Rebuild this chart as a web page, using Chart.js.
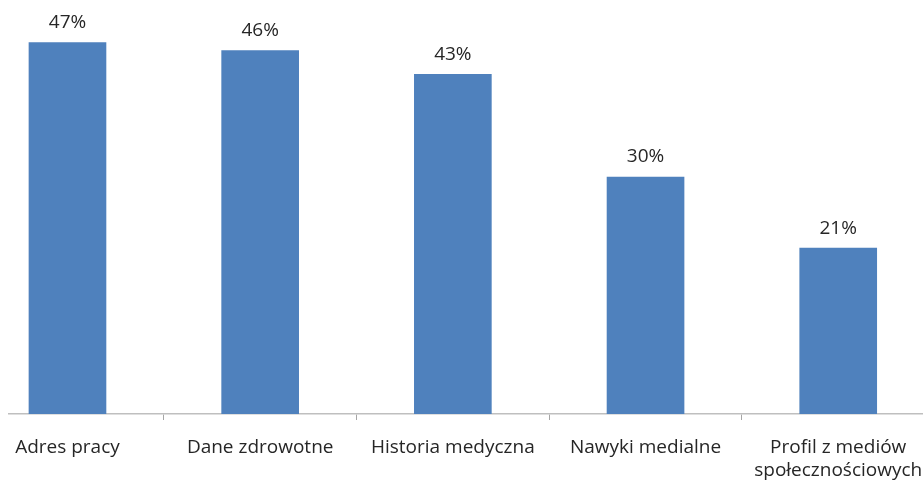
<!DOCTYPE html>
<html>
<head>
<meta charset="utf-8">
<script src="https://cdn.jsdelivr.net/npm/chart.js@4.4.1/dist/chart.umd.min.js"></script>
<style>
  html, body { margin: 0; padding: 0; background: #fff; }
  #wrap { width: 923px; height: 482px; }
</style>
</head>
<body>
<div id="wrap"><canvas id="chart"></canvas></div>
<script>
// dane z wykresu
const categories = [
    'Adres pracy',
    'Dane zdrowotne',
    'Historia medyczna',
    'Nawyki medialne',
    ['Profil z mediów', 'społecznościowych']
];
const values = [47, 46, 43, 30, 21];

const xMin = -0.3035;
const xMax = 4.44;

const barLabels = {
    id: 'barLabels',
    afterDatasetsDraw(chart) {
        const ctx = chart.ctx;
        const meta = chart.getDatasetMeta(0);
        ctx.save();
        ctx.font = '19px "Open Sans"';
        ctx.fillStyle = '#262626';
        ctx.textAlign = 'center';
        ctx.textBaseline = 'middle';
        meta.data.forEach((bar, i) => {
            ctx.fillText(values[i] + '%', bar.x, bar.y - 20);
        });
        ctx.restore();
    }
};

new Chart(document.getElementById('chart'), {
    type: 'bar',
    data: {
        datasets: [{
            data: values.map((v, i) => ({ x: i, y: v })),
            backgroundColor: '#4F81BD',
            barThickness: 77
        }]
    },
    options: {
        responsive: true,
        maintainAspectRatio: false,
        animation: false,
        layout: { padding: { top: 19, left: 9, right: 0, bottom: 0 } },
        plugins: {
            legend: { display: false },
            tooltip: { enabled: false }
        },
        scales: {
            x: {
                type: 'linear',
                offset: false,
                min: xMin,
                max: xMax,
                afterBuildTicks: (scale) => {
                    const t = [xMin];
                    for (let i = 0; i < categories.length; i++) {
                        t.push(i);
                        if (i < categories.length - 1) t.push(i + 0.5);
                    }
                    t.push(xMax);
                    scale.ticks = t.map(v => ({ value: v }));
                },
                afterFit: (scale) => {
                    scale.height = 68;
                    scale.paddingLeft = 0;
                    scale.paddingRight = 0;
                },
                ticks: {
                    autoSkip: false,
                    maxRotation: 0,
                    padding: 16,
                    color: '#262626',
                    font: { family: '"Open Sans"', size: 19 },
                    callback: (v) => Number.isInteger(v) ? categories[v] : ''
                },
                grid: {
                    offset: false,
                    drawOnChartArea: false,
                    drawTicks: true,
                    tickLength: 6,
                    color: (c) => (c.tick && Math.abs(c.tick.value % 1) === 0.5) ? '#A6A6A6' : 'rgba(0,0,0,0)'
                },
                border: { display: true, color: '#BFBFBF', width: 1.5 }
            },
            y: {
                display: false,
                min: 0,
                max: 50
            }
        }
    },
    plugins: [barLabels]
});
</script>
</body>
</html>
